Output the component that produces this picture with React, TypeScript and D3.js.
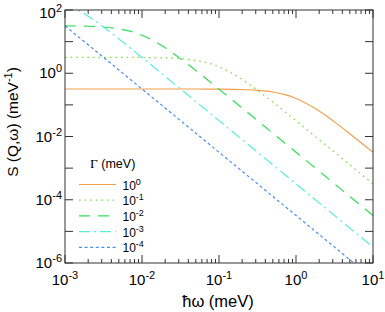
import * as d3 from 'd3'
import React, { useEffect, useRef } from 'react'

// energy transfer grid (meV)
const omega = [
  0.001, 0.002, 0.003, 0.005, 0.007, 0.01, 0.02, 0.03, 0.05, 0.07, 0.1, 0.2, 0.3, 0.5, 0.7,
  1, 2, 3, 5, 7, 10
]

// S(Q,w), one array per linewidth
const sGamma1 = [
  0.318, 0.318, 0.318, 0.318, 0.318, 0.318, 0.318, 0.318, 0.318, 0.317, 0.315, 0.306, 0.292,
  0.255, 0.214, 0.159, 0.0637, 0.0318, 0.0122, 0.00637, 0.00315
]
const sGamma01 = [
  3.18, 3.18, 3.18, 3.175, 3.168, 3.152, 3.061, 2.92, 2.546, 2.136, 1.592, 0.637, 0.318, 0.1224,
  0.0637, 0.0315, 0.00794, 0.00353, 0.00127, 0.000649, 0.000318
]
const sGamma001 = [
  31.5, 30.6, 29.2, 25.5, 21.4, 15.9, 6.37, 3.18, 1.224, 0.637, 0.315, 0.0794, 0.0353, 0.0127,
  0.00649, 0.00318, 0.000796, 0.000354, 0.000127, 6.5e-5, 3.18e-5
]
const sGamma0001 = [
  159, 63.7, 31.8, 12.2, 6.37, 3.15, 0.794, 0.353, 0.127, 0.0649, 0.0318, 0.00796, 0.00354,
  0.00127, 0.00065, 0.000318, 7.96e-5, 3.54e-5, 1.27e-5, 6.5e-6, 3.18e-6
]
const sGamma00001 = [
  31.5, 7.94, 3.53, 1.273, 0.65, 0.318, 0.0796, 0.0354, 0.0127, 0.0065, 0.00318, 0.000796,
  0.000354, 0.000127, 6.5e-5, 3.18e-5, 7.96e-6, 3.54e-6, 1.27e-6, 6.5e-7, 3.18e-7
]

const seriesExp = ['0', '-1', '-2', '-3', '-4']
const seriesValues = [sGamma1, sGamma01, sGamma001, sGamma0001, sGamma00001]
const seriesColors = ['#f0a04c', '#77dd44', '#33dd55', '#55eedd', '#4a8ef0']
const seriesDash = ['none', '1.6,4', '11,8', '11,4,2,4', '3,2.6']

const xTickExp = [-3, -2, -1, 0, 1]
const yTickExp = [2, 0, -2, -4, -6]

const W = 385
const H = 312

const App = () => {
  const svgRef = useRef(null)

  useEffect(() => {
    const root = d3.select(svgRef.current)
    root.selectAll('*').remove()

    const left = 65
    const right = 373
    const top = 10
    const bottom = 263
    const font = 'Liberation Sans, Arial, Helvetica, sans-serif'

    const x = d3.scaleLog().domain([1e-3, 10]).range([left, right])
    const y = d3.scaleLog().domain([1e-6, 1e2]).range([bottom, top])

    root
      .append('defs')
      .append('clipPath')
      .attr('id', 'plotclip')
      .append('rect')
      .attr('x', left)
      .attr('y', top)
      .attr('width', right - left)
      .attr('height', bottom - top)

    // curves
    const line = d3
      .line()
      .x((d) => x(d[0]))
      .y((d) => y(d[1]))
      .curve(d3.curveMonotoneX)

    const g = root.append('g').attr('clip-path', 'url(#plotclip)')
    seriesValues.forEach((vals, i) => {
      g.append('path')
        .datum(omega.map((w, k) => [w, vals[k]]))
        .attr('fill', 'none')
        .attr('stroke', seriesColors[i])
        .attr('stroke-width', 1.2)
        .attr('stroke-dasharray', seriesDash[i])
        .attr('d', line)
    })

    // frame
    root
      .append('rect')
      .attr('x', left)
      .attr('y', top)
      .attr('width', right - left)
      .attr('height', bottom - top)
      .attr('fill', 'none')
      .attr('stroke', '#333')
      .attr('stroke-width', 1)

    // x ticks, inward on top and bottom
    const xMinor = []
    for (let e = -3; e < 1; e++) for (let m = 2; m <= 9; m++) xMinor.push(m * Math.pow(10, e))
    const ticks = root.append('g').attr('stroke', '#333').attr('stroke-width', 1)
    xMinor.forEach((v) => {
      ticks.append('line').attr('x1', x(v)).attr('x2', x(v)).attr('y1', bottom).attr('y2', bottom - 4)
      ticks.append('line').attr('x1', x(v)).attr('x2', x(v)).attr('y1', top).attr('y2', top + 4)
    })
    xTickExp.forEach((e) => {
      const v = Math.pow(10, e)
      ticks.append('line').attr('x1', x(v)).attr('x2', x(v)).attr('y1', bottom).attr('y2', bottom - 8)
      ticks.append('line').attr('x1', x(v)).attr('x2', x(v)).attr('y1', top).attr('y2', top + 8)
    })
    // y ticks every decade, inward on left and right
    for (let e = -6; e <= 2; e++) {
      const v = Math.pow(10, e)
      ticks.append('line').attr('x1', left).attr('x2', left + 8).attr('y1', y(v)).attr('y2', y(v))
      ticks.append('line').attr('x1', right).attr('x2', right - 8).attr('y1', y(v)).attr('y2', y(v))
    }

    // tick labels
    const labels = root.append('g').attr('font-family', font).attr('fill', '#000')
    xTickExp.forEach((e) => {
      const t = labels
        .append('text')
        .attr('x', x(Math.pow(10, e)))
        .attr('y', 284.5)
        .attr('text-anchor', 'middle')
        .attr('font-size', 15)
      t.append('tspan').text('10')
      t.append('tspan').attr('dy', -6).attr('font-size', 11).text(String(e))
    })
    yTickExp.forEach((e) => {
      const t = labels
        .append('text')
        .attr('x', 62)
        .attr('y', Math.max(y(Math.pow(10, e)) + 5, 17.5))
        .attr('text-anchor', 'end')
        .attr('font-size', 15)
      t.append('tspan').text('10')
      t.append('tspan').attr('dy', -6).attr('font-size', 11).text(String(e))
    })

    // axis titles
    labels
      .append('text')
      .attr('x', 218)
      .attr('y', 307)
      .attr('text-anchor', 'middle')
      .attr('font-size', 16.5)
      .text('ħω (meV)')

    const yt = labels
      .append('text')
      .attr('transform', 'translate(18,122) rotate(-90)')
      .attr('text-anchor', 'middle')
      .attr('font-size', 15.5)
    yt.append('tspan').text('S (Q,ω) (meV')
    yt.append('tspan').attr('dy', -6).attr('font-size', 11).text('-1')
    yt.append('tspan').attr('dy', 6).text(')')

    // legend
    const lg = root.append('g').attr('font-family', font)
    const lt = lg.append('text').attr('x', 90).attr('y', 167.5).attr('font-size', 12.5)
    lt.append('tspan').attr('font-family', 'Liberation Serif, Times New Roman, serif').attr('font-size', 13.5).text('Γ')
    lt.append('tspan').text(' (meV)')

    seriesExp.forEach((e, i) => {
      const ly = 184.5 + i * 15.7
      lg.append('line')
        .attr('x1', 79)
        .attr('x2', 116)
        .attr('y1', ly)
        .attr('y2', ly)
        .attr('stroke', seriesColors[i])
        .attr('stroke-width', 1.2)
        .attr('stroke-dasharray', seriesDash[i])
      const t = lg.append('text').attr('x', 122.5).attr('y', ly + 5).attr('font-size', 12)
      t.append('tspan').text('10')
      t.append('tspan').attr('dy', -5).attr('font-size', 9).text(e)
    })
  }, [])

  return (
    <div style={{ position: 'absolute', left: 0, top: 0, width: W, height: H, background: '#fff' }}>
      <svg ref={svgRef} width={W} height={H} style={{ display: 'block' }}></svg>
    </div>
  )
}

export default App
